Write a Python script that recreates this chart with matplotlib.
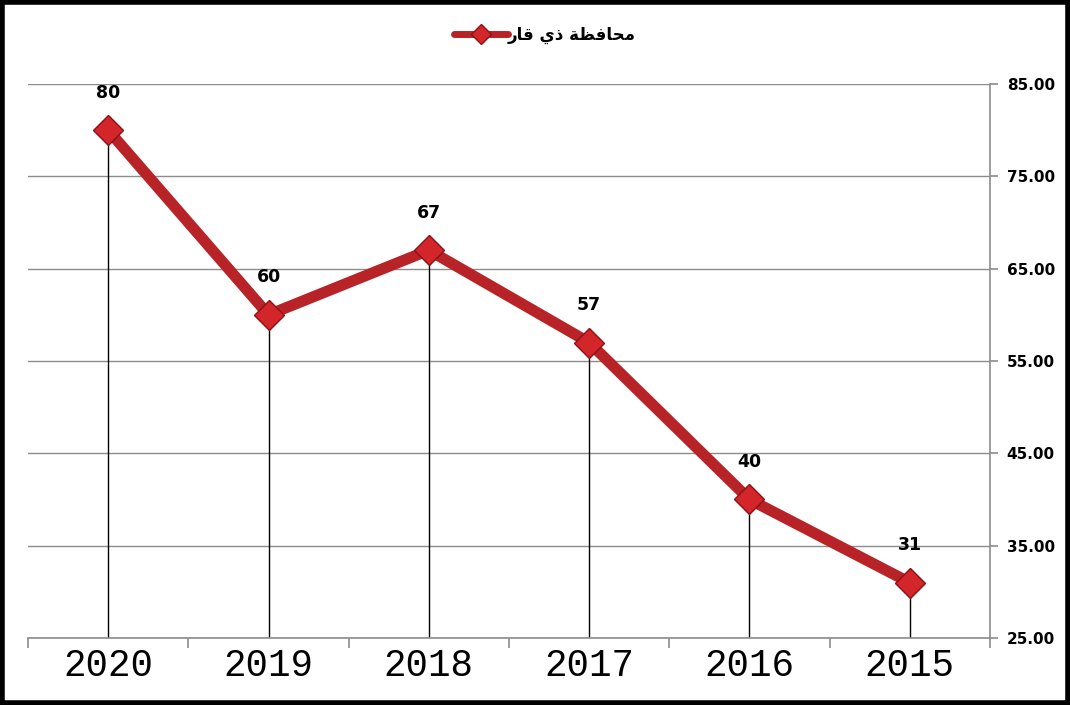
import matplotlib
matplotlib.use("Agg")
import matplotlib.pyplot as plt
from matplotlib.patches import Rectangle
from matplotlib.ticker import FixedLocator, FormatStrFormatter, NullFormatter

# Data
years = ["2020", "2019", "2018", "2017", "2016", "2015"]
values = [80, 60, 67, 57, 40, 31]
series_name = "\uFEAD\uFE8E\uFED7 \uFEF1\uFEAB \uFE94\uFEC8\uFED3\uFE8E\uFEA4\uFEE3"  # محافظة ذي قار (visual order, shaped)
yticks = [25, 35, 45, 55, 65, 75, 85]

fig = plt.figure(figsize=(10.7, 7.05), dpi=100)
ax = fig.add_axes([28/1070, 1-638/705, (990-28)/1070, (638-84)/705])

x = list(range(len(years)))
line_color = "#B82327"

# Drop lines
ax.vlines(x, 25, values, colors="black", linewidth=1.0, zorder=2)
# Main line
ax.plot(x, values, color=line_color, linewidth=8, zorder=3, solid_capstyle="round",
        marker="D", markersize=15, markerfacecolor="#D3262B", markeredgecolor="#8E1015",
        markeredgewidth=1.0, label=series_name)

for xi, v in zip(x, values):
    ax.annotate(str(v), (xi, v), xytext=(0, 27), textcoords="offset points",
                ha="center", va="center", fontsize=12.5, fontweight="bold", color="black",
                family="DejaVu Sans")

ax.set_xlim(-0.5, len(years) - 0.5)
ax.set_ylim(25, 85)

# Axes styling
for s in ["left", "top"]:
    ax.spines[s].set_visible(False)
ax.spines["right"].set_color("#8c8c8c")
ax.spines["bottom"].set_color("#8c8c8c")
ax.spines["right"].set_linewidth(1.2)
ax.spines["bottom"].set_linewidth(1.2)

ax.yaxis.tick_right()
ax.set_yticks(yticks)
ax.yaxis.set_major_formatter(FormatStrFormatter("%.2f"))
ax.tick_params(axis="y", which="major", direction="out", length=6, color="#8c8c8c",
               width=1.2, pad=6, labelsize=11)
for lbl in ax.get_yticklabels():
    lbl.set_fontweight("bold")
ax.yaxis.grid(True, color="#8c8c8c", linewidth=1.0)
ax.set_axisbelow(True)

ax.set_xticks(x)
ax.set_xticklabels(years, family="Liberation Mono", fontsize=27)
ax.tick_params(axis="x", which="major", length=0, pad=7)
ax.xaxis.set_minor_locator(FixedLocator([i - 0.5 for i in range(len(years) + 1)]))
ax.xaxis.set_minor_formatter(NullFormatter())
ax.tick_params(axis="x", which="minor", direction="out", length=7, color="#8c8c8c", width=1.2)

leg = ax.legend(loc="center", bbox_to_anchor=(545/1070, 1-35/705),
                bbox_transform=fig.transFigure, frameon=False,
                prop={"family": "DejaVu Sans", "weight": "bold", "size": 12},
                handlelength=3.2, markerscale=0.7, handletextpad=0.0)
for h in leg.get_lines():
    h.set_linewidth(5)

# Figure border
fig.patches.append(Rectangle((0.002, 0.003), 0.996, 0.994, transform=fig.transFigure,
                             fill=False, edgecolor="black", linewidth=4))

fig.savefig("out.png", dpi=100)
